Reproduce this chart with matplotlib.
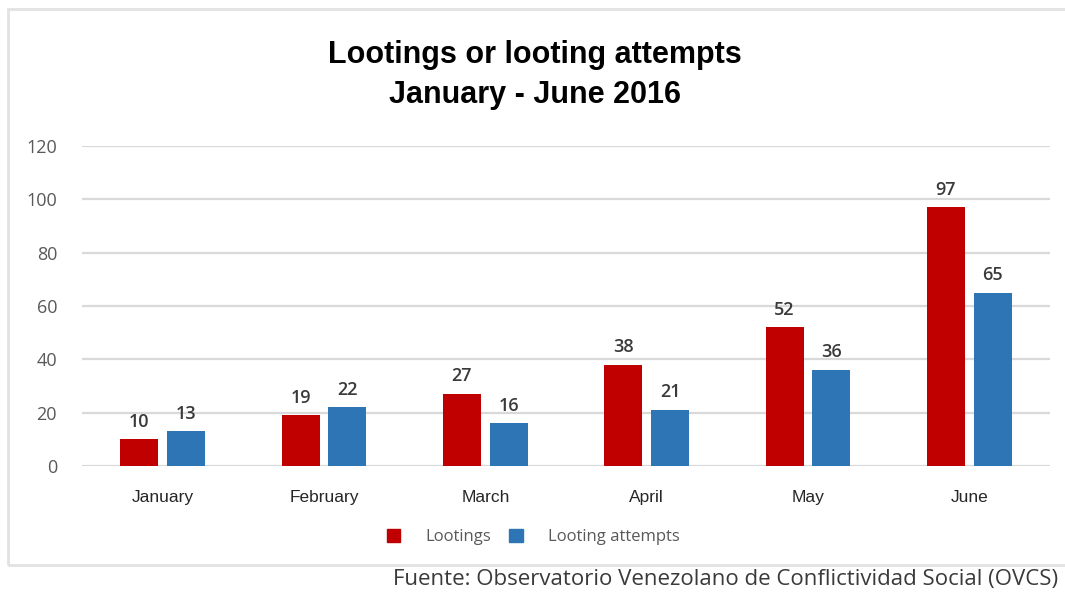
import matplotlib
matplotlib.use("Agg")
import matplotlib.pyplot as plt
from matplotlib.patches import Rectangle, Patch
import numpy as np

months = ["January", "February", "March", "April", "May", "June"]
lootings = [10, 19, 27, 38, 52, 97]
attempts = [13, 22, 16, 21, 36, 65]
y_ticks = [0, 20, 40, 60, 80, 100, 120]

RED = "#C00000"
BLUE = "#2E75B6"
GRID = "#D9D9D9"
TICK = "#595959"

W, H = 1065, 592
fig = plt.figure(figsize=(W / 100, H / 100), dpi=100)
fig.patch.set_facecolor("white")

# outer frame of the chart
fig.add_artist(Rectangle((8 / W, 1 - 565 / H), (1070 - 8) / W, (565 - 9) / H,
                         transform=fig.transFigure, fill=False,
                         edgecolor="#E2E2E2", linewidth=2.0))

ax = fig.add_axes([82 / W, 1 - 466 / H, (1050 - 82) / W, (466 - 146) / H])
x = np.arange(len(months))
bw = 0.236
off = 0.145
b1 = ax.bar(x - off, lootings, bw, color=RED, zorder=3)
b2 = ax.bar(x + off, attempts, bw, color=BLUE, zorder=3)

for bars, vals in ((b1, lootings), (b2, attempts)):
    for rect, v in zip(bars, vals):
        ax.text(rect.get_x() + rect.get_width() / 2, v + 3.3, str(v),
                ha="center", va="bottom", fontsize=13, color="#3A3A3A",
                family="Open Sans", fontweight="semibold")

ax.set_xlim(-0.5, len(months) - 0.5)
ax.set_ylim(0, 120)
ax.set_yticks(y_ticks)
ax.yaxis.grid(True, color=GRID, linewidth=1.6, zorder=0)
ax.set_axisbelow(True)
for s in ax.spines.values():
    s.set_visible(False)
ax.tick_params(axis="both", length=0)
ax.tick_params(axis="y", pad=18, labelsize=13, labelcolor=TICK)
for lab in ax.get_yticklabels():
    lab.set_family("Open Sans")
ax.set_xticks(x)
ax.set_xticklabels(months, fontsize=12.5, color="#262626", family="Liberation Sans")
ax.tick_params(axis="x", pad=17)

fig.text(535 / W, 1 - 55 / H, "Lootings or looting attempts",
         ha="center", va="center", fontsize=22, fontweight="bold",
         family="Liberation Sans", color="black")
fig.text(535 / W, 1 - 95 / H, "January - June 2016",
         ha="center", va="center", fontsize=22, fontweight="bold",
         family="Liberation Sans", color="black")

handles = [Patch(color=RED, label="Lootings"), Patch(color=BLUE, label="Looting attempts")]
leg = fig.legend(handles=handles, loc="center", bbox_to_anchor=(533 / W, 1 - 537 / H),
                 ncol=2, frameon=False, fontsize=12, handlelength=0.8,
                 handleheight=0.8, handletextpad=1.5, columnspacing=1.1)
for t in leg.get_texts():
    t.set_color(TICK)
    t.set_family("Open Sans")

fig.text(1058 / W, 1 - 580 / H,
         "Fuente: Observatorio Venezolano de Conflictividad Social (OVCS)",
         ha="right", va="center", fontsize=16, color="#3A3A3A", family="Open Sans")

fig.savefig("out.png", dpi=100)
